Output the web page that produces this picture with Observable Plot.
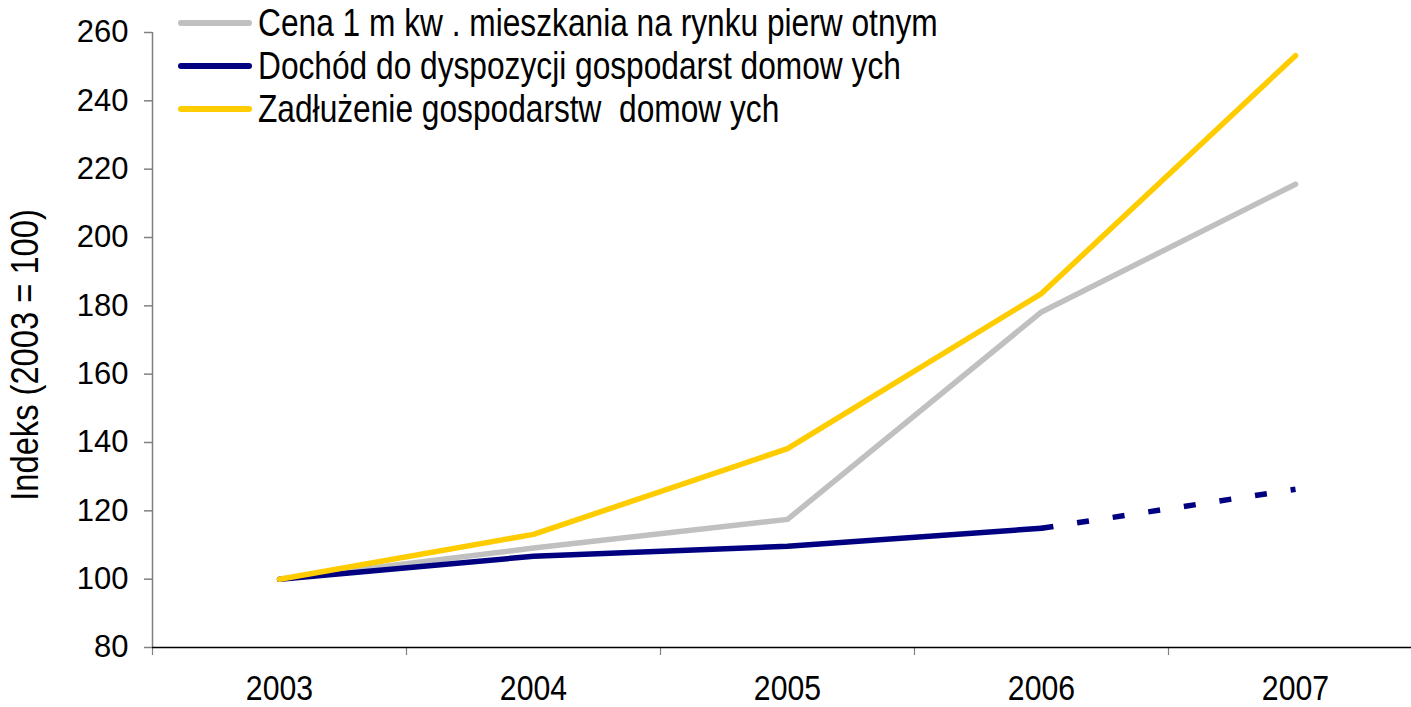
<!DOCTYPE html>
<html>
<head>
<meta charset="utf-8">
<script src="https://cdn.jsdelivr.net/npm/d3@7"></script>
<script src="https://cdn.jsdelivr.net/npm/@observablehq/plot@0.6"></script>
<style>
  html, body { margin: 0; padding: 0; background: #fff; }
  #wrap { position: relative; width: 1411px; height: 707px; overflow: hidden; font-family: "Liberation Sans", Arial, sans-serif; }
  #wrap svg { position: absolute; left: 0; top: 0; }
  #legend { position: absolute; left: 178px; top: 1px; }
  .row { display: flex; align-items: center; height: 43px; }
  .sw { width: 74px; height: 6px; border-radius: 3px; margin-right: 6px; flex: none; }
  .lab { display: inline-block; font-size: 38.5px; line-height: 40px; color: #000; white-space: pre; transform: scaleX(0.823); transform-origin: left center; }
  svg [aria-label="x-axis tick label"] text { font-size: 36px; }
  svg [aria-label="y-axis tick label"] text { font-size: 31px; }
  #ytitle { position: absolute; left: 25px; top: 355px; transform: translate(-50%, -50%) rotate(-90deg) scaleX(0.86); font-size: 38px; white-space: pre; color:#000; }
</style>
</head>
<body>
<div id="wrap"></div>
<script>
const years = ["2003", "2004", "2005", "2006", "2007"];
const yTicks = [80, 100, 120, 140, 160, 180, 200, 220, 240, 260];
const cena = [100, 109.1, 117.5, 178.2, 215.6];
const dochod = [100, 106.7, 109.6, 114.9, 126.3];
const zadluzenie = [100, 113.1, 138.2, 183.6, 253.2];
const seriesNames = [
  "Cena 1 m kw . mieszkania na rynku pierw otnym",
  "Dochód do dyspozycji gospodarst domow ych",
  "Zadłużenie gospodarstw  domow ych"
];
const colors = ["#C0C0C0", "#000080", "#FFCC00"];
const yTitle = "Indeks (2003 = 100)";

const idx = years.map((_, i) => i);
const cenaData = idx.map(i => ({i, v: cena[i]}));
const dochodSolid = idx.filter(i => i <= 3).map(i => ({i, v: dochod[i]}));
const dochodDash = idx.filter(i => i >= 3).map(i => ({i, v: dochod[i]}));
const zadData = idx.map(i => ({i, v: zadluzenie[i]}));
const bandEdges = [-0.5, 0.5, 1.5, 2.5, 3.5];

const chart = Plot.plot({
  width: 1411,
  height: 707,
  marginLeft: 152,
  marginRight: 0,
  marginTop: 32,
  marginBottom: 60,
  style: {fontFamily: "Liberation Sans, Arial, sans-serif", background: "#fff", overflow: "visible"},
  x: {domain: [-0.5, 4.5], range: [152, 1422]},
  y: {domain: [80, 260], range: [647, 32]},
  marks: [
    Plot.axisY({ticks: yTicks, tickSize: 8, tickPadding: 16, stroke: "#808080", strokeWidth: 1.5, fill: "#000", label: null}),
    Plot.axisX({ticks: bandEdges, tickSize: 8, tickFormat: () => "", stroke: "#808080", strokeWidth: 1.2, label: null}),
    Plot.axisX({ticks: idx, tickSize: 0, tickPadding: 27, tickFormat: i => years[i], fill: "#000", label: null}),
    Plot.ruleX([-0.5], {y1: 80, y2: 260, stroke: "#808080", strokeWidth: 1.5}),
    Plot.ruleY([80], {stroke: "#000", strokeWidth: 1.5}),
    Plot.line(cenaData, {x: "i", y: "v", stroke: colors[0], strokeWidth: 5.5, strokeLinecap: "round", strokeLinejoin: "round"}),
    Plot.line(dochodSolid, {x: "i", y: "v", stroke: colors[1], strokeWidth: 5.5, strokeLinecap: "round", strokeLinejoin: "round"}),
    Plot.line(dochodDash, {x: "i", y: "v", stroke: colors[1], strokeWidth: 5.5, strokeLinecap: "butt", strokeDasharray: "12,24"}),
    Plot.line(zadData, {x: "i", y: "v", stroke: colors[2], strokeWidth: 5.5, strokeLinecap: "round", strokeLinejoin: "round"})
  ]
});

// condense the year labels horizontally, as in the original narrow typeface
chart.querySelectorAll('[aria-label="x-axis tick label"] text').forEach(el => {
  const tr = el.getAttribute("transform") || "";
  el.setAttribute("transform", tr + " scale(0.84,1)");
});

const wrap = document.getElementById("wrap");
wrap.appendChild(chart);

const t = document.createElement("div");
t.id = "ytitle";
t.textContent = yTitle;
wrap.appendChild(t);

const leg = document.createElement("div");
leg.id = "legend";
seriesNames.forEach((name, k) => {
  const row = document.createElement("div");
  row.className = "row";
  const sw = document.createElement("div");
  sw.className = "sw";
  sw.style.background = colors[k];
  const lab = document.createElement("span");
  lab.className = "lab";
  lab.textContent = name;
  row.appendChild(sw);
  row.appendChild(lab);
  leg.appendChild(row);
});
wrap.appendChild(leg);
</script>
</body>
</html>
